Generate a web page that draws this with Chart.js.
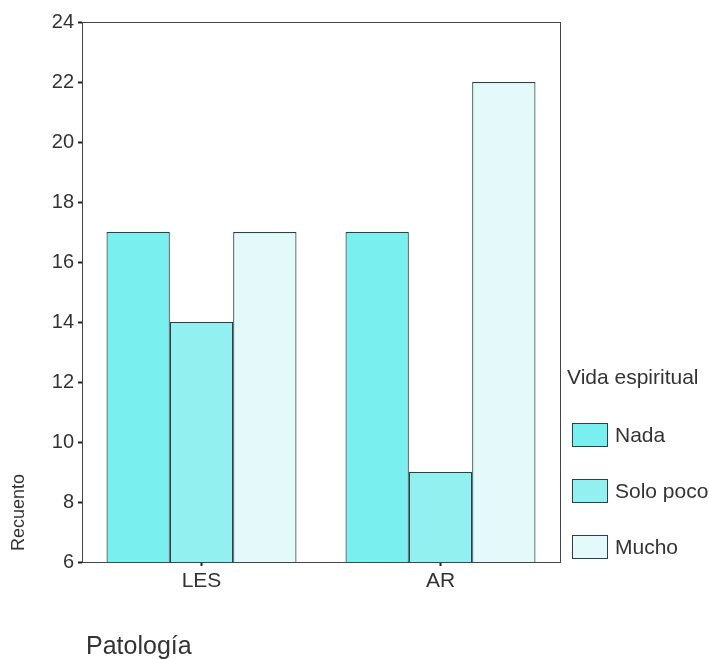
<!DOCTYPE html>
<html>
<head>
<meta charset="utf-8">
<script src="https://cdn.jsdelivr.net/npm/chart.js@4/dist/chart.umd.min.js"></script>
<style>
  html, body { margin: 0; padding: 0; background: #fff; }
  #wrap { width: 709px; height: 659px; position: relative; }
</style>
</head>
<body>
<div id="wrap"><canvas id="c" width="709" height="659"></canvas></div>
<script>
const categories = ["LES", "AR"];
const seriesNames = ["Nada", "Solo poco", "Mucho"];
const nada = [17, 17];
const soloPoco = [14, 9];
const mucho = [17, 22];
const yTicks = [6, 8, 10, 12, 14, 16, 18, 20, 22, 24];
const legendTitle = "Vida espiritual";
const xTitle = "Patología";
const yTitle = "Recuento";

const fills = ["#7aeff0", "#92f0f0", "#e4fafa"];
const border = "#24454a";
const FONT = "'Liberation Sans', Arial, sans-serif";
const TXT = "#333333";

const decor = {
  id: "decor",
  afterDatasetsDraw(chart) {
    const ctx = chart.ctx;
    const a = chart.chartArea;
    ctx.save();
    // frame
    ctx.strokeStyle = "#444";
    ctx.lineWidth = 1;
    ctx.strokeRect(Math.round(a.left) + 0.5, Math.round(a.top) + 0.5,
                   Math.round(a.right - a.left), Math.round(a.bottom - a.top));
    // axis titles
    ctx.fillStyle = TXT;
    ctx.font = "18px " + FONT;
    ctx.save();
    ctx.translate(19, 551);
    ctx.rotate(-Math.PI / 2);
    ctx.textAlign = "left";
    ctx.textBaseline = "middle";
    ctx.fillText(yTitle, 0, 0);
    ctx.restore();
    ctx.font = "25px " + FONT;
    ctx.textAlign = "left";
    ctx.textBaseline = "middle";
    ctx.fillText(xTitle, 86, 647);
    // legend
    ctx.font = "21px " + FONT;
    ctx.fillText(legendTitle, 567, 378);
    chart.data.datasets.forEach((ds, i) => {
      const cy = 435 + i * 56;
      ctx.fillStyle = ds.backgroundColor;
      ctx.fillRect(572, cy - 12, 36, 24);
      ctx.strokeStyle = border;
      ctx.lineWidth = 1;
      ctx.strokeRect(572.5, cy - 11.5, 35, 23);
      ctx.fillStyle = TXT;
      ctx.font = "21px " + FONT;
      ctx.fillText(ds.label, 615, cy + 1);
    });
    ctx.restore();
  }
};

new Chart(document.getElementById("c"), {
  type: "bar",
  data: {
    labels: categories,
    datasets: [
      { label: seriesNames[0], data: nada, backgroundColor: fills[0] },
      { label: seriesNames[1], data: soloPoco, backgroundColor: fills[1] },
      { label: seriesNames[2], data: mucho, backgroundColor: fills[2] }
    ].map(d => Object.assign(d, { borderColor: border, borderWidth: 1.2, borderSkipped: false }))
  },
  options: {
    responsive: false,
    animation: false,
    devicePixelRatio: 1,
    layout: { padding: { top: 22, right: 149, left: 0, bottom: 0 } },
    plugins: { legend: { display: false }, tooltip: { enabled: false } },
    datasets: { bar: { categoryPercentage: 0.795, barPercentage: 1.0 } },
    scales: {
      x: {
        afterFit(s) { s.height = 97; },
        grid: { display: true, offset: false, drawOnChartArea: false, drawTicks: true, tickLength: 4, tickWidth: 2, tickColor: "#222" },
        border: { display: true, color: "#444" },
        ticks: { color: TXT, font: { family: FONT, size: 21 }, padding: 3 }
      },
      y: {
        min: 6, max: 24,
        afterFit(s) { s.width = 82; },
        afterBuildTicks(s) { s.ticks = yTicks.map(v => ({ value: v })); },
        grid: { display: true, drawOnChartArea: false, drawTicks: true, tickLength: 4, tickWidth: 2, tickColor: "#222" },
        border: { display: true, color: "#444" },
        ticks: { color: TXT, font: { family: FONT, size: 20 }, padding: 4 }
      }
    }
  },
  plugins: [decor]
});
</script>
</body>
</html>
